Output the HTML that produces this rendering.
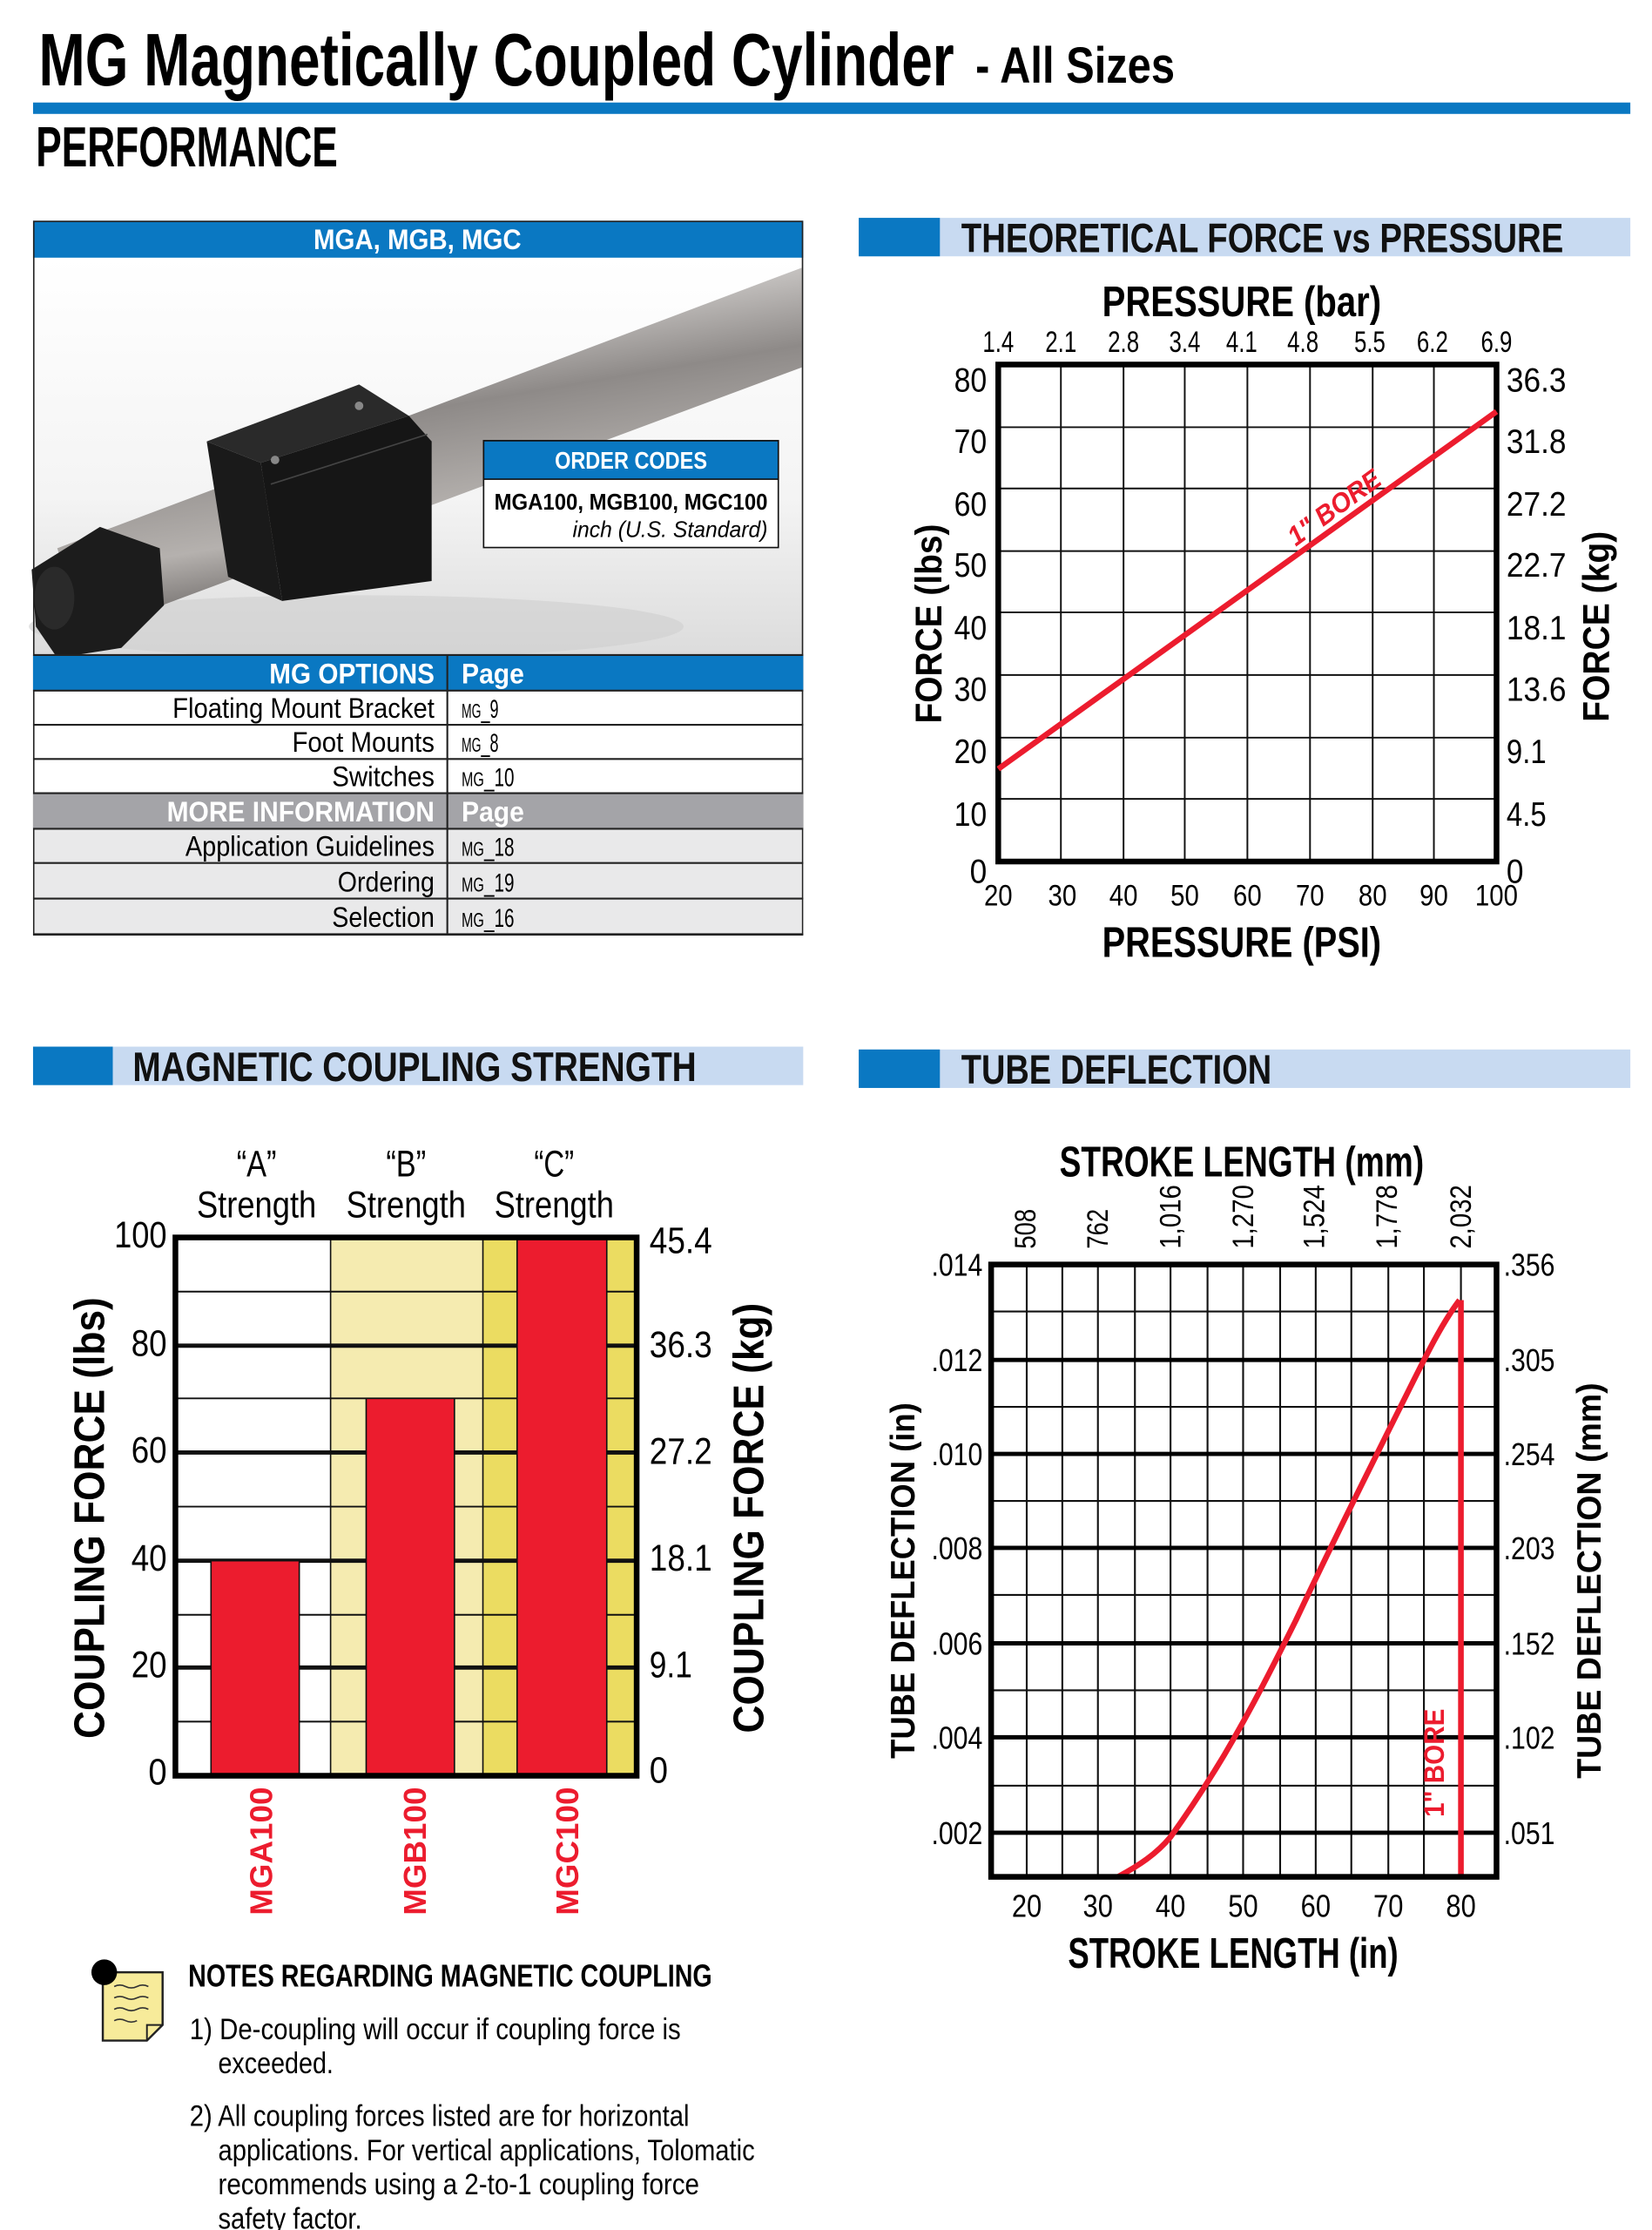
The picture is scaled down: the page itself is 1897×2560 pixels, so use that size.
<!DOCTYPE html>
<html><head><meta charset="utf-8"><style>
html,body{margin:0;padding:0;background:#fff;}
svg{display:block;}
text{font-family:"Liberation Sans Narrow","Liberation Sans",sans-serif;}
.b{font-family:"Liberation Sans","DejaVu Sans",sans-serif;font-weight:bold;}
</style></head><body>
<svg width="1897" height="2560" viewBox="0 0 1160 1566" xmlns="http://www.w3.org/2000/svg">
<defs>
<linearGradient id="rod" x1="0" y1="0" x2="0.35" y2="1">
<stop offset="0" stop-color="#5a5656"/><stop offset="0.3" stop-color="#c9c6c4"/><stop offset="0.5" stop-color="#8e8a88"/><stop offset="0.75" stop-color="#b5b1ae"/><stop offset="1" stop-color="#4a4645"/>
</linearGradient>
<linearGradient id="bg" x1="0" y1="0" x2="0" y2="1">
<stop offset="0" stop-color="#ffffff"/><stop offset="0.6" stop-color="#f4f4f4"/><stop offset="1" stop-color="#dcdcdc"/>
</linearGradient>
</defs>

<!-- Title -->
<text x="27" y="60" font-size="52" font-weight="bold" textLength="643" lengthAdjust="spacingAndGlyphs">MG Magnetically Coupled Cylinder</text>
<text x="685" y="58" font-size="36" font-weight="bold" textLength="140" lengthAdjust="spacingAndGlyphs">- All Sizes</text>
<rect x="23" y="72" width="1122" height="8" fill="#0a78c2"/>
<text x="25" y="117" font-size="40" font-weight="bold" textLength="212" lengthAdjust="spacingAndGlyphs">PERFORMANCE</text>

<!-- Left panel -->
<rect x="23" y="155" width="541" height="26" fill="#0a78c2"/>
<text x="293" y="175" font-size="20" font-weight="bold" fill="#fff" text-anchor="middle" textLength="146" lengthAdjust="spacingAndGlyphs">MGA, MGB, MGC</text>
<rect x="24" y="181" width="539" height="279" fill="url(#bg)"/>
<ellipse cx="250" cy="440" rx="230" ry="22" fill="#cfcfcf" opacity="0.6"/>
<polygon points="40,385 563,188 563,258 60,445" fill="url(#rod)"/>
<polygon points="22,400 70,370 112,385 115,425 85,455 40,462 25,440" fill="#1c1c1c"/>
<ellipse cx="38" cy="420" rx="14" ry="22" fill="#2a2a2a"/>
<polygon points="145,310 252,270 287,292 183,325" fill="#2a2a2a"/>
<polygon points="145,310 183,325 198,422 160,405" fill="#1a1a1a"/>
<polygon points="183,325 287,292 303,310 303,408 198,422" fill="#161616"/>
<line x1="190" y1="340" x2="300" y2="305" stroke="#444" stroke-width="1"/>
<circle cx="193" cy="323" r="3" fill="#888"/><circle cx="252" cy="285" r="3" fill="#888"/>
<rect x="339.5" y="309.5" width="207" height="75" fill="#fff" stroke="#111" stroke-width="1"/>
<rect x="339.5" y="309.5" width="207" height="27" fill="#0a78c2" stroke="#111" stroke-width="1"/>
<text x="443" y="329" font-size="17" font-weight="bold" fill="#fff" text-anchor="middle" textLength="107" lengthAdjust="spacingAndGlyphs">ORDER CODES</text>
<text x="539" y="358" font-size="16" font-weight="bold" text-anchor="end" textLength="192" lengthAdjust="spacingAndGlyphs">MGA100, MGB100, MGC100</text>
<text x="539" y="377" font-size="16" font-style="italic" text-anchor="end" textLength="137" lengthAdjust="spacingAndGlyphs">inch (U.S. Standard)</text>

<rect x="23.5" y="155.5" width="540" height="501" fill="none" stroke="#222" stroke-width="1"/>
<rect x="23" y="460" width="541" height="25" fill="#0a78c2"/>
<rect x="23" y="557" width="541" height="25" fill="#a4a4a8"/>
<rect x="24" y="582" width="539" height="74" fill="#e9e9ea"/>
<g stroke="#222" stroke-width="1.3">
<line x1="23" y1="460" x2="564" y2="460"/><line x1="23" y1="485" x2="564" y2="485"/>
<line x1="23" y1="509" x2="564" y2="509"/><line x1="23" y1="533" x2="564" y2="533"/>
<line x1="23" y1="557" x2="564" y2="557"/><line x1="23" y1="582" x2="564" y2="582"/>
<line x1="23" y1="606" x2="564" y2="606"/><line x1="23" y1="631" x2="564" y2="631"/>
<line x1="23" y1="656" x2="564" y2="656"/>
<line x1="314" y1="460" x2="314" y2="656"/>
</g>
<g font-size="20">
<text x="305" y="480" fill="#fff" font-weight="bold" text-anchor="end" textLength="116" lengthAdjust="spacingAndGlyphs">MG OPTIONS</text>
<text x="324" y="480" fill="#fff" font-weight="bold" textLength="44" lengthAdjust="spacingAndGlyphs">Page</text>
<text x="305" y="504" text-anchor="end" textLength="184" lengthAdjust="spacingAndGlyphs">Floating Mount Bracket</text>
<text x="305" y="528" text-anchor="end" textLength="100" lengthAdjust="spacingAndGlyphs">Foot Mounts</text>
<text x="305" y="552" text-anchor="end" textLength="72" lengthAdjust="spacingAndGlyphs">Switches</text>
<text x="305" y="577" fill="#fff" font-weight="bold" text-anchor="end" textLength="188" lengthAdjust="spacingAndGlyphs">MORE INFORMATION</text>
<text x="324" y="577" fill="#fff" font-weight="bold" textLength="44" lengthAdjust="spacingAndGlyphs">Page</text>
<text x="305" y="601" text-anchor="end" textLength="175" lengthAdjust="spacingAndGlyphs">Application Guidelines</text>
<text x="305" y="626" text-anchor="end" textLength="68" lengthAdjust="spacingAndGlyphs">Ordering</text>
<text x="305" y="651" text-anchor="end" textLength="72" lengthAdjust="spacingAndGlyphs">Selection</text>
</g>
<g font-size="18">
<text x="324" y="504" textLength="26" lengthAdjust="spacingAndGlyphs"><tspan font-size="14">MG</tspan>_9</text>
<text x="324" y="528" textLength="26" lengthAdjust="spacingAndGlyphs"><tspan font-size="14">MG</tspan>_8</text>
<text x="324" y="552" textLength="37" lengthAdjust="spacingAndGlyphs"><tspan font-size="14">MG</tspan>_10</text>
<text x="324" y="601" textLength="37" lengthAdjust="spacingAndGlyphs"><tspan font-size="14">MG</tspan>_18</text>
<text x="324" y="626" textLength="37" lengthAdjust="spacingAndGlyphs"><tspan font-size="14">MG</tspan>_19</text>
<text x="324" y="651" textLength="37" lengthAdjust="spacingAndGlyphs"><tspan font-size="14">MG</tspan>_16</text>
</g>

<!-- Section headers -->
<rect x="603" y="153" width="542" height="27" fill="#c8daf1"/><rect x="603" y="153" width="57" height="27" fill="#0a78c2"/>
<text x="675" y="177" font-size="29" font-weight="bold" fill="#111" textLength="423" lengthAdjust="spacingAndGlyphs">THEORETICAL FORCE vs PRESSURE</text>
<rect x="23" y="735" width="541" height="27" fill="#c8daf1"/><rect x="23" y="735" width="56" height="27" fill="#0a78c2"/>
<text x="93" y="759" font-size="29" font-weight="bold" fill="#111" textLength="396" lengthAdjust="spacingAndGlyphs">MAGNETIC COUPLING STRENGTH</text>
<rect x="603" y="737" width="542" height="27" fill="#c8daf1"/><rect x="603" y="737" width="57" height="27" fill="#0a78c2"/>
<text x="675" y="761" font-size="29" font-weight="bold" fill="#111" textLength="218" lengthAdjust="spacingAndGlyphs">TUBE DEFLECTION</text>

<!-- Force vs Pressure chart -->
<g stroke="#111" stroke-width="1.2">
<line x1="745" y1="256" x2="745" y2="605"/><line x1="789" y1="256" x2="789" y2="605"/>
<line x1="832" y1="256" x2="832" y2="605"/><line x1="876" y1="256" x2="876" y2="605"/>
<line x1="920" y1="256" x2="920" y2="605"/><line x1="964" y1="256" x2="964" y2="605"/>
<line x1="1007" y1="256" x2="1007" y2="605"/>
<line x1="701" y1="300" x2="1051" y2="300"/><line x1="701" y1="343" x2="1051" y2="343"/>
<line x1="701" y1="387" x2="1051" y2="387"/><line x1="701" y1="430" x2="1051" y2="430"/>
<line x1="701" y1="474" x2="1051" y2="474"/><line x1="701" y1="518" x2="1051" y2="518"/>
<line x1="701" y1="561" x2="1051" y2="561"/>
</g>
<rect x="701" y="256" width="350" height="349" fill="none" stroke="#000" stroke-width="4"/>
<line x1="701" y1="540" x2="1051" y2="289" stroke="#ec1c2e" stroke-width="4"/>
<text transform="translate(910,384) rotate(-36)" font-size="19" font-weight="bold" font-style="italic" fill="#ec1c2e" class="b" textLength="76" lengthAdjust="spacingAndGlyphs">1" BORE</text>
<g font-size="21" text-anchor="middle">
<text x="701" y="247" textLength="22" lengthAdjust="spacingAndGlyphs">1.4</text><text x="745" y="247" textLength="22" lengthAdjust="spacingAndGlyphs">2.1</text><text x="789" y="247" textLength="22" lengthAdjust="spacingAndGlyphs">2.8</text><text x="832" y="247" textLength="22" lengthAdjust="spacingAndGlyphs">3.4</text><text x="872" y="247" textLength="22" lengthAdjust="spacingAndGlyphs">4.1</text><text x="915" y="247" textLength="22" lengthAdjust="spacingAndGlyphs">4.8</text><text x="962" y="247" textLength="22" lengthAdjust="spacingAndGlyphs">5.5</text><text x="1006" y="247" textLength="22" lengthAdjust="spacingAndGlyphs">6.2</text><text x="1051" y="247" textLength="22" lengthAdjust="spacingAndGlyphs">6.9</text>
<text x="701" y="636" textLength="20" lengthAdjust="spacingAndGlyphs">20</text><text x="746" y="636" textLength="20" lengthAdjust="spacingAndGlyphs">30</text><text x="789" y="636" textLength="20" lengthAdjust="spacingAndGlyphs">40</text><text x="832" y="636" textLength="20" lengthAdjust="spacingAndGlyphs">50</text><text x="876" y="636" textLength="20" lengthAdjust="spacingAndGlyphs">60</text><text x="920" y="636" textLength="20" lengthAdjust="spacingAndGlyphs">70</text><text x="964" y="636" textLength="20" lengthAdjust="spacingAndGlyphs">80</text><text x="1007" y="636" textLength="20" lengthAdjust="spacingAndGlyphs">90</text><text x="1051" y="636" textLength="30" lengthAdjust="spacingAndGlyphs">100</text>
</g>
<g font-size="24" text-anchor="end">
<text x="693" y="275" textLength="23" lengthAdjust="spacingAndGlyphs">80</text><text x="693" y="318" textLength="23" lengthAdjust="spacingAndGlyphs">70</text><text x="693" y="362" textLength="23" lengthAdjust="spacingAndGlyphs">60</text><text x="693" y="405" textLength="23" lengthAdjust="spacingAndGlyphs">50</text><text x="693" y="449" textLength="23" lengthAdjust="spacingAndGlyphs">40</text><text x="693" y="492" textLength="23" lengthAdjust="spacingAndGlyphs">30</text><text x="693" y="536" textLength="23" lengthAdjust="spacingAndGlyphs">20</text><text x="693" y="580" textLength="23" lengthAdjust="spacingAndGlyphs">10</text><text x="693" y="620" textLength="12" lengthAdjust="spacingAndGlyphs">0</text>
</g>
<g font-size="24">
<text x="1058" y="275" textLength="42" lengthAdjust="spacingAndGlyphs">36.3</text><text x="1058" y="318" textLength="42" lengthAdjust="spacingAndGlyphs">31.8</text><text x="1058" y="362" textLength="42" lengthAdjust="spacingAndGlyphs">27.2</text><text x="1058" y="405" textLength="42" lengthAdjust="spacingAndGlyphs">22.7</text><text x="1058" y="449" textLength="42" lengthAdjust="spacingAndGlyphs">18.1</text><text x="1058" y="492" textLength="42" lengthAdjust="spacingAndGlyphs">13.6</text><text x="1058" y="536" textLength="28" lengthAdjust="spacingAndGlyphs">9.1</text><text x="1058" y="580" textLength="28" lengthAdjust="spacingAndGlyphs">4.5</text><text x="1058" y="620" textLength="12" lengthAdjust="spacingAndGlyphs">0</text>
</g>
<text x="872" y="222" font-size="30" font-weight="bold" text-anchor="middle" textLength="196" lengthAdjust="spacingAndGlyphs">PRESSURE (bar)</text>
<text x="872" y="672" font-size="30" font-weight="bold" text-anchor="middle" textLength="196" lengthAdjust="spacingAndGlyphs">PRESSURE (PSI)</text>
<text class="b" transform="translate(661,438) rotate(-90)" font-size="26" text-anchor="middle" textLength="140" lengthAdjust="spacingAndGlyphs">FORCE (lbs)</text>
<text class="b" transform="translate(1130,440) rotate(-90)" font-size="26" text-anchor="middle" textLength="134" lengthAdjust="spacingAndGlyphs">FORCE (kg)</text>

<!-- Bar chart -->
<rect x="123" y="869" width="109" height="378" fill="#fff"/>
<rect x="232" y="869" width="107" height="378" fill="#f5ebb0"/>
<rect x="339" y="869" width="108" height="378" fill="#ebdc61"/>
<g stroke="#111">
<line x1="123" y1="907" x2="447" y2="907" stroke-width="1.2"/>
<line x1="123" y1="945" x2="447" y2="945" stroke-width="3"/>
<line x1="123" y1="982" x2="447" y2="982" stroke-width="1.2"/>
<line x1="123" y1="1020" x2="447" y2="1020" stroke-width="3"/>
<line x1="123" y1="1058" x2="447" y2="1058" stroke-width="1.2"/>
<line x1="123" y1="1096" x2="447" y2="1096" stroke-width="3"/>
<line x1="123" y1="1134" x2="447" y2="1134" stroke-width="1.2"/>
<line x1="123" y1="1171" x2="447" y2="1171" stroke-width="3"/>
<line x1="123" y1="1209" x2="447" y2="1209" stroke-width="1.2"/>
<line x1="232" y1="869" x2="232" y2="1247" stroke-width="1"/>
<line x1="339" y1="869" x2="339" y2="1247" stroke-width="1"/>
</g>
<rect x="148" y="1096" width="62" height="151" fill="#ec1c2e" stroke="#111" stroke-width="1"/>
<rect x="257" y="982" width="62" height="265" fill="#ec1c2e" stroke="#111" stroke-width="1"/>
<rect x="363" y="869" width="63" height="378" fill="#ec1c2e" stroke="#111" stroke-width="1"/>
<rect x="123" y="869" width="324" height="378" fill="none" stroke="#000" stroke-width="4"/>
<g font-size="26" text-anchor="end">
<text x="117" y="876" textLength="37" lengthAdjust="spacingAndGlyphs">100</text><text x="117" y="952" textLength="25" lengthAdjust="spacingAndGlyphs">80</text><text x="117" y="1027" textLength="25" lengthAdjust="spacingAndGlyphs">60</text><text x="117" y="1103" textLength="25" lengthAdjust="spacingAndGlyphs">40</text><text x="117" y="1178" textLength="25" lengthAdjust="spacingAndGlyphs">20</text><text x="117" y="1253" textLength="13" lengthAdjust="spacingAndGlyphs">0</text>
</g>
<g font-size="26">
<text x="456" y="880" textLength="44" lengthAdjust="spacingAndGlyphs">45.4</text><text x="456" y="953" textLength="44" lengthAdjust="spacingAndGlyphs">36.3</text><text x="456" y="1028" textLength="44" lengthAdjust="spacingAndGlyphs">27.2</text><text x="456" y="1103" textLength="44" lengthAdjust="spacingAndGlyphs">18.1</text><text x="456" y="1178" textLength="30" lengthAdjust="spacingAndGlyphs">9.1</text><text x="456" y="1252" textLength="13" lengthAdjust="spacingAndGlyphs">0</text>
</g>
<g font-size="26" text-anchor="middle">
<text x="180" y="826" textLength="28" lengthAdjust="spacingAndGlyphs">“A”</text><text x="180" y="855" textLength="84" lengthAdjust="spacingAndGlyphs">Strength</text>
<text x="285" y="826" textLength="28" lengthAdjust="spacingAndGlyphs">“B”</text><text x="285" y="855" textLength="84" lengthAdjust="spacingAndGlyphs">Strength</text>
<text x="389" y="826" textLength="28" lengthAdjust="spacingAndGlyphs">“C”</text><text x="389" y="855" textLength="84" lengthAdjust="spacingAndGlyphs">Strength</text>
</g>
<text class="b" transform="translate(73,1066) rotate(-90)" font-size="30" text-anchor="middle" textLength="310" lengthAdjust="spacingAndGlyphs">COUPLING FORCE (lbs)</text>
<text class="b" transform="translate(536,1066) rotate(-90)" font-size="30" text-anchor="middle" textLength="302" lengthAdjust="spacingAndGlyphs">COUPLING FORCE (kg)</text>
<g class="b" font-size="22" fill="#ec1c2e">
<text transform="translate(191,1345) rotate(-90)" textLength="90" lengthAdjust="spacingAndGlyphs">MGA100</text>
<text transform="translate(299,1345) rotate(-90)" textLength="90" lengthAdjust="spacingAndGlyphs">MGB100</text>
<text transform="translate(406,1345) rotate(-90)" textLength="90" lengthAdjust="spacingAndGlyphs">MGC100</text>
</g>

<!-- Notes -->
<polygon points="72,1385 114,1385 114,1422 103,1433 72,1433" fill="#f7eb9a" stroke="#222" stroke-width="1.5"/>
<polyline points="103,1433 103,1422 114,1422" fill="none" stroke="#222" stroke-width="1.2"/>
<g stroke="#333" stroke-width="1" fill="none">
<path d="M80,1395 q4,-2 8,0 t8,0 t8,0"/><path d="M80,1403 q4,-2 8,0 t8,0 t8,0"/><path d="M80,1411 q4,-2 8,0 t8,0 t8,0"/><path d="M80,1419 q4,-2 8,0 t8,0"/>
</g>
<circle cx="73" cy="1385" r="9" fill="#000"/>
<text x="132" y="1395" font-size="22" font-weight="bold" textLength="368" lengthAdjust="spacingAndGlyphs">NOTES REGARDING MAGNETIC COUPLING</text>
<g font-size="21">
<text x="133" y="1432" textLength="345" lengthAdjust="spacingAndGlyphs">1) De-coupling will occur if coupling force is</text>
<text x="153" y="1456" textLength="81" lengthAdjust="spacingAndGlyphs">exceeded.</text>
<text x="133" y="1493" textLength="351" lengthAdjust="spacingAndGlyphs">2) All coupling forces listed are for horizontal</text>
<text x="153" y="1517" textLength="377" lengthAdjust="spacingAndGlyphs">applications. For vertical applications, Tolomatic</text>
<text x="153" y="1541" textLength="338" lengthAdjust="spacingAndGlyphs">recommends using a 2-to-1 coupling force</text>
<text x="153" y="1565" textLength="101" lengthAdjust="spacingAndGlyphs">safety factor.</text>
</g>

<!-- Tube deflection chart -->
<g stroke="#111" stroke-width="1.3">
<line x1="721" y1="888" x2="721" y2="1318"/><line x1="746" y1="888" x2="746" y2="1318"/>
<line x1="771" y1="888" x2="771" y2="1318"/><line x1="797" y1="888" x2="797" y2="1318"/>
<line x1="822" y1="888" x2="822" y2="1318"/><line x1="848" y1="888" x2="848" y2="1318"/>
<line x1="873" y1="888" x2="873" y2="1318"/><line x1="899" y1="888" x2="899" y2="1318"/>
<line x1="924" y1="888" x2="924" y2="1318"/><line x1="949" y1="888" x2="949" y2="1318"/>
<line x1="975" y1="888" x2="975" y2="1318"/><line x1="1000" y1="888" x2="1000" y2="1318"/>
<line x1="1026" y1="888" x2="1026" y2="1318"/>
<line x1="696" y1="921" x2="1051" y2="921"/><line x1="696" y1="988" x2="1051" y2="988"/>
<line x1="696" y1="1054" x2="1051" y2="1054"/><line x1="696" y1="1120" x2="1051" y2="1120"/>
<line x1="696" y1="1187" x2="1051" y2="1187"/><line x1="696" y1="1254" x2="1051" y2="1254"/>
</g>
<g stroke="#000" stroke-width="3">
<line x1="696" y1="955" x2="1051" y2="955"/><line x1="696" y1="1021" x2="1051" y2="1021"/>
<line x1="696" y1="1087" x2="1051" y2="1087"/><line x1="696" y1="1154" x2="1051" y2="1154"/>
<line x1="696" y1="1220" x2="1051" y2="1220"/><line x1="696" y1="1287" x2="1051" y2="1287"/>
</g>
<path d="M785,1318 C800,1310 812,1302 822,1290 C835,1272 848,1252 860,1232 C880,1198 895,1168 910,1138 C935,1085 960,1035 985,985 C1000,955 1012,930 1025,913" fill="none" stroke="#ec1c2e" stroke-width="4"/>
<line x1="1026" y1="913" x2="1026" y2="1318" stroke="#ec1c2e" stroke-width="4"/>
<text class="b" transform="translate(1014,1276) rotate(-90)" font-size="20" fill="#ec1c2e" textLength="76" lengthAdjust="spacingAndGlyphs">1" BORE</text>
<rect x="696" y="888" width="355" height="430" fill="none" stroke="#000" stroke-width="4"/>
<g font-size="22" text-anchor="end">
<text x="690" y="896" textLength="36" lengthAdjust="spacingAndGlyphs">.014</text><text x="690" y="963" textLength="36" lengthAdjust="spacingAndGlyphs">.012</text><text x="690" y="1029" textLength="36" lengthAdjust="spacingAndGlyphs">.010</text><text x="690" y="1095" textLength="36" lengthAdjust="spacingAndGlyphs">.008</text><text x="690" y="1162" textLength="36" lengthAdjust="spacingAndGlyphs">.006</text><text x="690" y="1228" textLength="36" lengthAdjust="spacingAndGlyphs">.004</text><text x="690" y="1295" textLength="36" lengthAdjust="spacingAndGlyphs">.002</text>
</g>
<g font-size="22">
<text x="1056" y="896" textLength="36" lengthAdjust="spacingAndGlyphs">.356</text><text x="1056" y="963" textLength="36" lengthAdjust="spacingAndGlyphs">.305</text><text x="1056" y="1029" textLength="36" lengthAdjust="spacingAndGlyphs">.254</text><text x="1056" y="1095" textLength="36" lengthAdjust="spacingAndGlyphs">.203</text><text x="1056" y="1162" textLength="36" lengthAdjust="spacingAndGlyphs">.152</text><text x="1056" y="1228" textLength="36" lengthAdjust="spacingAndGlyphs">.102</text><text x="1056" y="1295" textLength="36" lengthAdjust="spacingAndGlyphs">.051</text>
</g>
<g font-size="22" text-anchor="middle">
<text x="721" y="1346" textLength="21" lengthAdjust="spacingAndGlyphs">20</text><text x="771" y="1346" textLength="21" lengthAdjust="spacingAndGlyphs">30</text><text x="822" y="1346" textLength="21" lengthAdjust="spacingAndGlyphs">40</text><text x="873" y="1346" textLength="21" lengthAdjust="spacingAndGlyphs">50</text><text x="924" y="1346" textLength="21" lengthAdjust="spacingAndGlyphs">60</text><text x="975" y="1346" textLength="21" lengthAdjust="spacingAndGlyphs">70</text><text x="1026" y="1346" textLength="21" lengthAdjust="spacingAndGlyphs">80</text>
</g>
<g font-size="21">
<text transform="translate(727,877) rotate(-90)" textLength="28" lengthAdjust="spacingAndGlyphs">508</text>
<text transform="translate(778,877) rotate(-90)" textLength="28" lengthAdjust="spacingAndGlyphs">762</text>
<text transform="translate(829,877) rotate(-90)" textLength="45" lengthAdjust="spacingAndGlyphs">1,016</text>
<text transform="translate(880,877) rotate(-90)" textLength="45" lengthAdjust="spacingAndGlyphs">1,270</text>
<text transform="translate(930,877) rotate(-90)" textLength="45" lengthAdjust="spacingAndGlyphs">1,524</text>
<text transform="translate(981,877) rotate(-90)" textLength="45" lengthAdjust="spacingAndGlyphs">1,778</text>
<text transform="translate(1033,877) rotate(-90)" textLength="45" lengthAdjust="spacingAndGlyphs">2,032</text>
</g>
<text x="872" y="826" font-size="30" font-weight="bold" text-anchor="middle" textLength="256" lengthAdjust="spacingAndGlyphs">STROKE LENGTH (mm)</text>
<text x="866" y="1382" font-size="30" font-weight="bold" text-anchor="middle" textLength="232" lengthAdjust="spacingAndGlyphs">STROKE LENGTH (in)</text>
<text class="b" transform="translate(642,1110) rotate(-90)" font-size="24" text-anchor="middle" textLength="250" lengthAdjust="spacingAndGlyphs">TUBE DEFLECTION (in)</text>
<text class="b" transform="translate(1124,1110) rotate(-90)" font-size="24" text-anchor="middle" textLength="278" lengthAdjust="spacingAndGlyphs">TUBE DEFLECTION (mm)</text>
</svg>
</body></html>
